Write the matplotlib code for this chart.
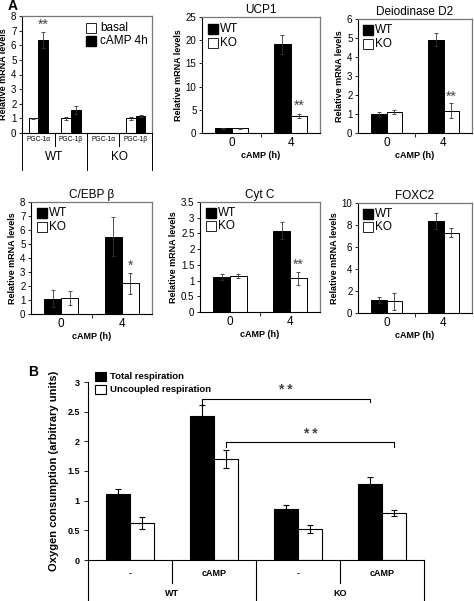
import matplotlib
matplotlib.use('Agg')
import matplotlib.pyplot as plt
import matplotlib.transforms as mtransforms
import numpy as np

plt.rcParams['font.family'] = ['Liberation Sans', 'DejaVu Sans']

# ---------------- data ----------------
pgc_labels = ['PGC-1α', 'PGC-1β', 'PGC-1α', 'PGC-1β']
pgc_groups = ['WT', 'KO']
pgc_basal = [1.0, 1.0, 0.0, 1.0]
pgc_basal_err = [0.05, 0.12, 0.0, 0.08]
pgc_camp = [6.35, 1.58, 0.0, 1.16]
pgc_camp_err = [0.57, 0.27, 0.0, 0.07]

time_labels = ['0', '4']

ucp1_wt = [1.0, 19.1]
ucp1_wt_err = [0.1, 2.1]
ucp1_ko = [1.0, 3.66]
ucp1_ko_err = [0.05, 0.5]

d2_wt = [1.0, 4.92]
d2_wt_err = [0.12, 0.32]
d2_ko = [1.1, 1.18]
d2_ko_err = [0.1, 0.4]

cebp_wt = [1.1, 5.52]
cebp_wt_err = [0.6, 1.4]
cebp_ko = [1.12, 2.18]
cebp_ko_err = [0.5, 0.72]

cytc_wt = [1.11, 2.59]
cytc_wt_err = [0.1, 0.28]
cytc_ko = [1.15, 1.07]
cytc_ko_err = [0.07, 0.2]

foxc2_wt = [1.2, 8.35]
foxc2_wt_err = [0.3, 0.7]
foxc2_ko = [1.05, 7.3]
foxc2_ko_err = [0.78, 0.4]

resp_treat = ['-', 'cAMP', '-', 'cAMP']
resp_geno = ['WT', 'KO']
resp_total = [1.12, 2.43, 0.86, 1.28]
resp_total_err = [0.08, 0.18, 0.07, 0.12]
resp_uncoupled = [0.62, 1.70, 0.52, 0.79]
resp_uncoupled_err = [0.1, 0.15, 0.07, 0.05]

# ---------------- layout helpers ----------------
W, H = 474, 601
fig = plt.figure(figsize=(W / 100, H / 100), dpi=100)


def add_ax(l, t, r, b):
    return fig.add_axes([l / W, 1 - b / H, (r - l) / W, (b - t) / H])


def style_frame(ax, gray_frame=True):
    for s in ['left', 'bottom']:
        ax.spines[s].set_color('black')
        ax.spines[s].set_linewidth(0.8)
    for s in ['top', 'right']:
        if gray_frame:
            ax.spines[s].set_color('#777777')
            ax.spines[s].set_linewidth(0.9)
        else:
            ax.spines[s].set_visible(False)
    ax.tick_params(axis='y', direction='out', length=2.5, width=0.6,
                   labelsize=7, pad=1.5)


def small_panel(ax, title, wt, wt_err, ko, ko_err, ymax, yticks, yticklabels,
                stars=None):
    x = np.arange(len(time_labels))
    w = 0.28
    ekw = dict(elinewidth=0.6, capsize=1.5, capthick=0.6, ecolor='#333333')
    ax.bar(x - w / 2, wt, w, color='black', edgecolor='black', linewidth=0.7,
           yerr=wt_err, error_kw=ekw)
    ax.bar(x + w / 2, ko, w, color='white', edgecolor='black', linewidth=0.7,
           yerr=ko_err, error_kw=ekw)
    ax.set_xlim(-0.5, 1.5)
    ax.set_ylim(0, ymax)
    ax.set_yticks(yticks)
    ax.set_yticklabels(yticklabels)
    ax.set_xticks(x)
    ax.set_xticklabels(time_labels, fontsize=8.5)
    ax.set_xticks([0.5], minor=True)
    ax.tick_params(axis='x', which='major', length=0, pad=3)
    ax.tick_params(axis='x', which='minor', length=3, width=0.6, direction='out')
    style_frame(ax)
    ax.set_title(title, fontsize=8.5, pad=3)
    ax.set_xlabel('cAMP (h)', fontsize=6.5, fontweight='bold', labelpad=1)
    ax.set_ylabel('Relative mRNA levels', fontsize=6.5, fontweight='bold',
                  labelpad=2)
    if stars:
        ax.text(1 + w / 2, stars[1], stars[0], ha='center', va='bottom',
                fontsize=10, color='#444444')
    # legend-like squares
    ax.plot([0.09], [0.9], marker='s', ms=6.5, mfc='black', mec='black',
            transform=ax.transAxes, clip_on=False, lw=0)
    ax.plot([0.09], [0.78], marker='s', ms=6.5, mfc='white', mec='black',
            mew=0.6, transform=ax.transAxes, clip_on=False, lw=0)
    ax.text(0.15, 0.9, 'WT', transform=ax.transAxes, fontsize=8.5, va='center')
    ax.text(0.15, 0.78, 'KO', transform=ax.transAxes, fontsize=8.5, va='center')


# ---------------- Panel A: PGC ----------------
ax = add_ax(22, 16, 152, 133)
xp = np.arange(len(pgc_labels))
w = 0.3
ekw = dict(elinewidth=0.6, capsize=1.5, capthick=0.6, ecolor='#333333')
bmask = [v > 0 for v in pgc_basal]
ax.bar(xp[bmask] - w / 2, np.array(pgc_basal)[bmask], w, color='white',
       edgecolor='black', linewidth=0.7,
       yerr=np.array(pgc_basal_err)[bmask], error_kw=ekw)
ax.bar(xp[bmask] + w / 2, np.array(pgc_camp)[bmask], w, color='black',
       edgecolor='black', linewidth=0.7,
       yerr=np.array(pgc_camp_err)[bmask], error_kw=ekw)
ax.set_xlim(-0.5, 3.5)
ax.set_ylim(0, 8)
ax.set_yticks(range(0, 9))
ax.set_xticks([])
style_frame(ax)
ax.set_ylabel('Relative mRNA levels', fontsize=6.5, fontweight='bold', labelpad=2)
ax.text(0 + w / 2, 6.9, '**', ha='center', va='bottom', fontsize=10,
        color='#444444')
ax.plot([0.53], [0.9], marker='s', ms=6.5, mfc='white', mec='black', mew=0.6,
        transform=ax.transAxes, lw=0)
ax.plot([0.53], [0.79], marker='s', ms=6.5, mfc='black', mec='black',
        transform=ax.transAxes, lw=0)
ax.text(0.6, 0.9, 'basal', transform=ax.transAxes, fontsize=8.5, va='center')
ax.text(0.6, 0.79, 'cAMP 4h', transform=ax.transAxes, fontsize=8.5, va='center')
# category box
hpx = 117
tr = mtransforms.blended_transform_factory(ax.transData, ax.transAxes)
for xb, depth in zip([-0.5, 0.5, 1.5, 2.5, 3.5], [37, 13, 37, 13, 37]):
    ax.plot([xb, xb], [0, -depth / hpx], color='black', lw=0.7,
            transform=tr, clip_on=False)
for i, lab in enumerate(pgc_labels):
    ax.text(i, -6.5 / hpx, lab, transform=tr, ha='center', va='center',
            fontsize=4.8, clip_on=False)
for g, lab in enumerate(pgc_groups):
    ax.text(2 * g + 0.5, -24 / hpx, lab, transform=tr, ha='center',
            va='center', fontsize=8.5, clip_on=False)

fig.text(8 / W, 1 - 6 / H, 'A', fontsize=10, fontweight='bold', va='center')

# ---------------- small panels ----------------
ax = add_ax(202, 17, 320, 133)
small_panel(ax, 'UCP1', ucp1_wt, ucp1_wt_err, ucp1_ko, ucp1_ko_err, 25,
            range(0, 26, 5), [str(v) for v in range(0, 26, 5)],
            stars=('**', 4.4))

ax = add_ax(358, 19, 472, 133)
small_panel(ax, 'Deiodinase D2', d2_wt, d2_wt_err, d2_ko, d2_ko_err, 6,
            range(0, 7), [str(v) for v in range(0, 7)], stars=('**', 1.55))

ax = add_ax(31, 202, 152, 314)
small_panel(ax, 'C/EBP β', cebp_wt, cebp_wt_err, cebp_ko, cebp_ko_err, 8,
            range(0, 9), [str(v) for v in range(0, 9)], stars=('*', 2.95))

ax = add_ax(200, 202, 320, 312)
cy = [0, 0.5, 1, 1.5, 2, 2.5, 3, 3.5]
small_panel(ax, 'Cyt C', cytc_wt, cytc_wt_err, cytc_ko, cytc_ko_err, 3.5,
            cy, ['0', '0.5', '1', '1.5', '2', '2.5', '3', '3.5'],
            stars=('**', 1.28))

ax = add_ax(358, 203, 472, 313)
small_panel(ax, 'FOXC2', foxc2_wt, foxc2_wt_err, foxc2_ko, foxc2_ko_err, 10,
            range(0, 11, 2), [str(v) for v in range(0, 11, 2)])

# ---------------- Panel B ----------------
ax = add_ax(88, 382, 424, 560)
xb = np.arange(len(resp_treat))
w = 0.29
ekw = dict(elinewidth=0.8, capsize=2.2, capthick=0.8, ecolor='black')
ax.bar(xb - w / 2, resp_total, w, color='black', edgecolor='black',
       linewidth=0.8, yerr=resp_total_err, error_kw=ekw,
       label='Total respiration')
ax.bar(xb + w / 2, resp_uncoupled, w, color='white', edgecolor='black',
       linewidth=0.8, yerr=resp_uncoupled_err, error_kw=ekw,
       label='Uncoupled respiration')
ax.set_xlim(-0.5, 3.5)
ax.set_ylim(0, 3)
ax.set_yticks([0, 0.5, 1, 1.5, 2, 2.5, 3])
ax.set_yticklabels(['0', '0.5', '1', '1.5', '2', '2.5', '3'],
                   fontweight='bold')
ax.set_xticks([])
style_frame(ax, gray_frame=False)
ax.tick_params(axis='y', labelsize=6.5, length=3, pad=3)
ax.set_ylabel('Oxygen consumption (arbitrary units)', fontsize=8,
              fontweight='bold', labelpad=6)

# significance brackets
br_lw = 0.8
x1, x2 = 1 - w / 2, 3 - w / 2
ax.plot([x1, x1, x2, x2], [2.6, 2.71, 2.71, 2.66], color='black', lw=br_lw)
ax.text((x1 + x2) / 2, 2.74, '* *', ha='center', va='bottom', fontsize=10,
        fontweight='bold', color='#444444')
x1, x2 = 1 + w / 2, 3 + w / 2
ax.plot([x1, x1, x2, x2], [1.9, 1.99, 1.99, 1.9], color='black', lw=br_lw)
ax.text((x1 + x2) / 2, 2.01, '* *', ha='center', va='bottom', fontsize=10,
        fontweight='bold', color='#444444')

# category box
hpx = 178
tr = mtransforms.blended_transform_factory(ax.transData, ax.transAxes)
for xv, depth in zip([-0.5, 0.5, 1.5, 2.5, 3.5], [42, 23, 42, 23, 42]):
    ax.plot([xv, xv], [0, -depth / hpx], color='black', lw=0.8,
            transform=tr, clip_on=False)
for i, lab in enumerate(resp_treat):
    ax.text(i, -14 / hpx, lab, transform=tr, ha='center', va='center',
            fontsize=6.5, fontweight='bold', clip_on=False)
for g, lab in enumerate(resp_geno):
    ax.text(2 * g + 0.5, -34 / hpx, lab, transform=tr, ha='center',
            va='center', fontsize=6.5, fontweight='bold', clip_on=False)

leg = ax.legend(loc='upper left', bbox_to_anchor=(0.01, 1.08), frameon=False,
                prop={'weight': 'bold', 'size': 6.8},
                handlelength=1.1, handleheight=1.1, handletextpad=0.5,
                labelspacing=0.35, borderaxespad=0)

fig.text(28 / W, 1 - 372 / H, 'B', fontsize=10, fontweight='bold',
         va='center')

fig.savefig('out.png', dpi=100)
